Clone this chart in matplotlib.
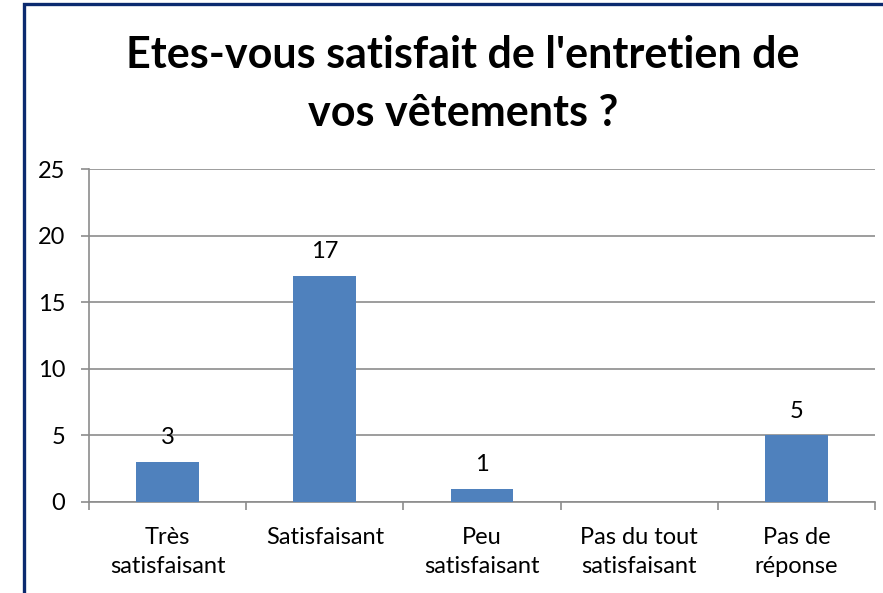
import matplotlib
matplotlib.use("Agg")
import matplotlib.pyplot as plt
from matplotlib.patches import Rectangle

categories = ["Très\nsatisfaisant", "Satisfaisant", "Peu\nsatisfaisant",
              "Pas du tout\nsatisfaisant", "Pas de\nréponse"]
counts = [3, 17, 1, 0, 5]
value_labels = ["3", "17", "1", "", "5"]
y_ticks = [0, 5, 10, 15, 20, 25]

plt.rcParams["font.family"] = ["Lato", "DejaVu Sans"]

W, H = 883, 593
fig = plt.figure(figsize=(W / 100, H / 100), dpi=100)
fig.patch.set_facecolor("white")

# dark blue frame, cut off at the right and bottom edges
fig.patches.append(Rectangle((23.5 / W, -0.1), 1.2, 1.1 - 4.5 / H,
                             transform=fig.transFigure, fill=False,
                             edgecolor="#0B2A6F", linewidth=2.4, zorder=0))

ax = fig.add_axes([89 / W, 1 - 502 / H, (875 - 89) / W, (502 - 169) / H])
x = list(range(len(categories)))
ax.bar(x, counts, width=0.4, color="#4F81BD", zorder=3)

for xi, c, lab in zip(x, counts, value_labels):
    if lab:
        ax.annotate(lab, (xi, c), xytext=(0, 10), textcoords="offset points",
                    ha="center", va="bottom", fontsize=17, color="black")

ax.set_xlim(-0.5, len(categories) - 0.5)
ax.set_ylim(0, 25)
ax.set_yticks(y_ticks)
ax.yaxis.grid(True, color="#8C8C8C", linewidth=1.2, zorder=0)
ax.set_axisbelow(True)

ax.set_xticks(x)
ax.set_xticklabels(categories, fontsize=17, linespacing=1.45)
ax.set_xticks([i - 0.5 for i in range(len(categories) + 1)], minor=True)
ax.tick_params(axis="x", which="major", length=0, pad=18)
ax.tick_params(axis="x", which="minor", length=6, width=1.2, color="#8C8C8C")
ax.tick_params(axis="y", length=6, width=1.2, color="#8C8C8C",
               labelsize=17, pad=11)

for s in ["top", "right"]:
    ax.spines[s].set_visible(False)
for s in ["left", "bottom"]:
    ax.spines[s].set_color("#8C8C8C")
    ax.spines[s].set_linewidth(1.2)

fig.text(463 / W, 1 - 84 / H,
         "Etes-vous satisfait de l'entretien de\nvos vêtements ?",
         ha="center", va="center", fontsize=31, fontweight="bold",
         linespacing=1.55)

fig.savefig("out.png", dpi=100)
